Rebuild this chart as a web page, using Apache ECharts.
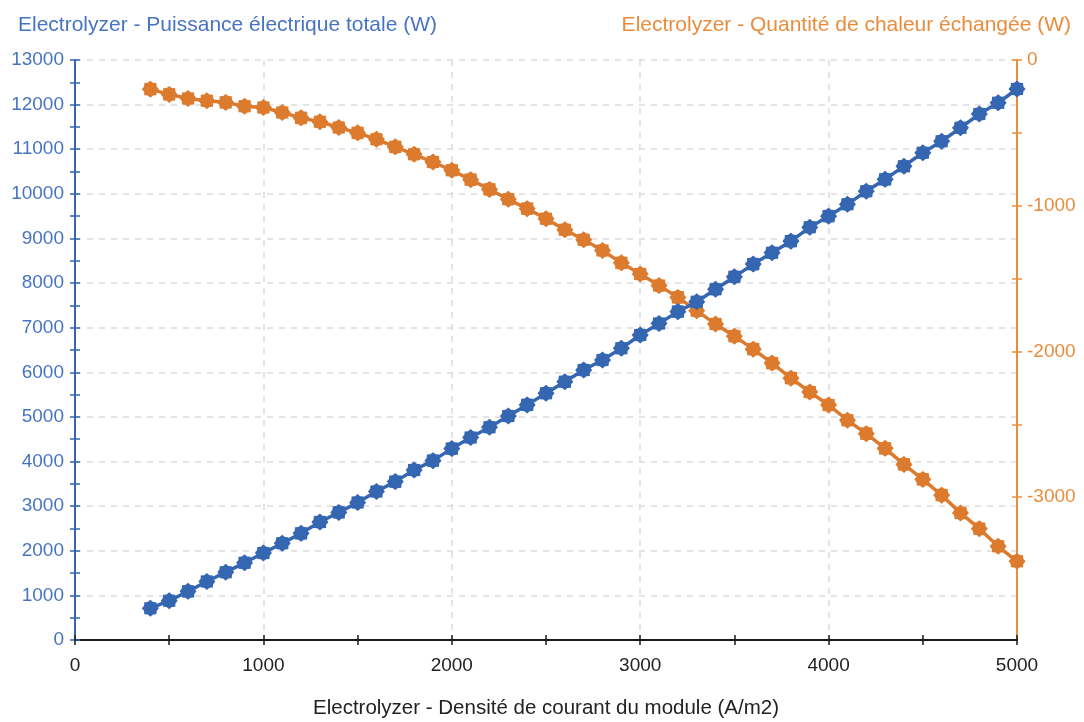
<!DOCTYPE html>
<html>
<head>
<meta charset="utf-8">
<script src="https://cdn.jsdelivr.net/npm/echarts@6/dist/echarts.min.js"></script>
<style>
html, body { margin: 0; padding: 0; background: #fff; }
#main { width: 1084px; height: 722px; }
</style>
</head>
<body>
<div id="main"></div>
<script>
// densité de courant (A/m2)
var densite = [400, 500, 600, 700, 800, 900, 1000, 1100, 1200, 1300, 1400, 1500, 1600, 1700, 1800, 1900,
    2000, 2100, 2200, 2300, 2400, 2500, 2600, 2700, 2800, 2900, 3000, 3100, 3200, 3300, 3400, 3500,
    3600, 3700, 3800, 3900, 4000, 4100, 4200, 4300, 4400, 4500, 4600, 4700, 4800, 4900, 5000];

// puissance électrique totale (W)
var puissance = [710, 880, 1090, 1310, 1520, 1730, 1950, 2170, 2390, 2645, 2860, 3080, 3330, 3550, 3810, 4020,
    4290, 4540, 4770, 5020, 5270, 5530, 5790, 6050, 6275, 6540, 6835, 7095, 7360, 7580, 7860, 8140,
    8425, 8680, 8940, 9250, 9500, 9765, 10060, 10325, 10620, 10920, 11180, 11480, 11790, 12040, 12350];

// quantité de chaleur échangée (W)
var chaleur = [-200, -236, -264, -280, -291, -317, -326, -360, -397, -424, -463, -500, -544, -596, -647, -700,
    -757, -821, -888, -956, -1020, -1089, -1165, -1234, -1307, -1392, -1468, -1548, -1629, -1720, -1812, -1895,
    -1984, -2080, -2183, -2278, -2367, -2472, -2564, -2665, -2775, -2878, -2986, -3108, -3216, -3337, -3440];

// graduations de l'axe de droite
var rightLabels = [0, -1000, -2000, -3000];
var rightTicks = [0, -500, -1000, -1500, -2000, -2500, -3000];

var bleu = '#3566b1';
var bleuAxe = '#4774c2';
var orange = '#dc7a2e';
var orangeAxe = '#e98c3c';
var police = '"Liberation Sans", Arial, sans-serif';

var marker = 'path://M200,100L174,131L171,171L131,174L100,200L69,174L29,171L26,131L0,100L26,69L29,29L69,26L100,0L131,26L171,29L174,69Z';

// nombres sans séparateur de milliers
function brut(v) { return String(v); }

var myChart = echarts.init(document.getElementById('main'));

var gridLine = { show: true, lineStyle: { color: '#dcdcdc', width: 1.5, type: [6, 6] } };

var option = {
    animation: false,
    textStyle: { fontFamily: police },
    title: [
        { text: 'Electrolyzer - Puissance électrique totale (W)', left: 13, top: 10,
          textStyle: { color: bleuAxe, fontSize: 21, fontWeight: 'normal', fontFamily: police } },
        { text: 'Electrolyzer - Quantité de chaleur échangée (W)', right: 8, top: 10,
          textStyle: { color: orangeAxe, fontSize: 21, fontWeight: 'normal', fontFamily: police } }
    ],
    grid: { left: 75, right: 67, top: 60, bottom: 82, outerBoundsMode: 'none', containLabel: false },
    xAxis: [
        {
            type: 'value', min: 0, max: 5000, interval: 1000,
            name: 'Electrolyzer - Densité de courant du module (A/m2)',
            nameLocation: 'middle', nameGap: 58,
            nameTextStyle: { color: '#222', fontSize: 20.5, fontFamily: police },
            axisLine: { onZero: false, lineStyle: { color: '#1a1a1a', width: 2 } },
            axisTick: { length: 5, lineStyle: { color: '#1a1a1a', width: 1.5 } },
            minorTick: { show: true, splitNumber: 2, length: 5, lineStyle: { color: '#1a1a1a', width: 1.5 } },
            axisLabel: { color: '#222', fontSize: 19, margin: 16, fontFamily: police, formatter: brut },
            splitLine: gridLine
        },
        {
            type: 'value', min: 0, max: 5000, interval: 1000, position: 'bottom',
            axisLine: { show: false, onZero: false },
            axisTick: { inside: true, length: 5, lineStyle: { color: '#1a1a1a', width: 1.5 } },
            minorTick: { show: true, splitNumber: 2, length: 5, lineStyle: { color: '#1a1a1a', width: 1.5 } },
            axisLabel: { show: false },
            splitLine: { show: false }
        }
    ],
    yAxis: [
        {
            type: 'value', min: 0, max: 13000, interval: 1000, position: 'left',
            axisLine: { show: true, onZero: false, lineStyle: { color: bleu, width: 2 } },
            axisTick: { show: true, length: 5, lineStyle: { color: bleu, width: 1.5 } },
            minorTick: { show: true, splitNumber: 2, length: 5, lineStyle: { color: bleu, width: 1.5 } },
            axisLabel: { color: bleuAxe, fontSize: 19, margin: 11, fontFamily: police, formatter: brut },
            splitLine: gridLine
        },
        {
            type: 'value', min: -3980, max: 0, position: 'right',
            axisLine: { show: true, onZero: false, lineStyle: { color: orangeAxe, width: 2 } },
            axisTick: { show: true, length: 5, customValues: rightTicks, lineStyle: { color: orangeAxe, width: 1.5 } },
            axisLabel: { color: orangeAxe, fontSize: 19, margin: 10, customValues: rightLabels, fontFamily: police, formatter: brut },
            splitLine: { show: false }
        },
        {
            type: 'value', min: 0, max: 13000, interval: 1000, position: 'left',
            axisLine: { show: false, onZero: false },
            axisTick: { show: true, inside: true, length: 5, lineStyle: { color: bleu, width: 1.5 } },
            minorTick: { show: true, splitNumber: 2, length: 5, lineStyle: { color: bleu, width: 1.5 } },
            axisLabel: { show: false },
            splitLine: { show: false }
        },
        {
            type: 'value', min: -3980, max: 0, position: 'right',
            axisLine: { show: false, onZero: false },
            axisTick: { show: true, inside: true, length: 5, customValues: rightTicks, lineStyle: { color: orangeAxe, width: 1.5 } },
            axisLabel: { show: false },
            splitLine: { show: false }
        }
    ],
    series: [
        {
            name: 'Electrolyzer - Quantité de chaleur échangée (W)',
            type: 'line', yAxisIndex: 1,
            data: densite.map(function (x, i) { return [x, chaleur[i]]; }),
            symbol: marker, symbolSize: 17,
            lineStyle: { color: orange, width: 3.5 },
            itemStyle: { color: orange },
            z: 3
        },
        {
            name: 'Electrolyzer - Puissance électrique totale (W)',
            type: 'line', yAxisIndex: 0,
            data: densite.map(function (x, i) { return [x, puissance[i]]; }),
            symbol: marker, symbolSize: 17,
            lineStyle: { color: bleu, width: 3.5 },
            itemStyle: { color: bleu },
            z: 4
        }
    ]
};

myChart.setOption(option);
</script>
</body>
</html>
